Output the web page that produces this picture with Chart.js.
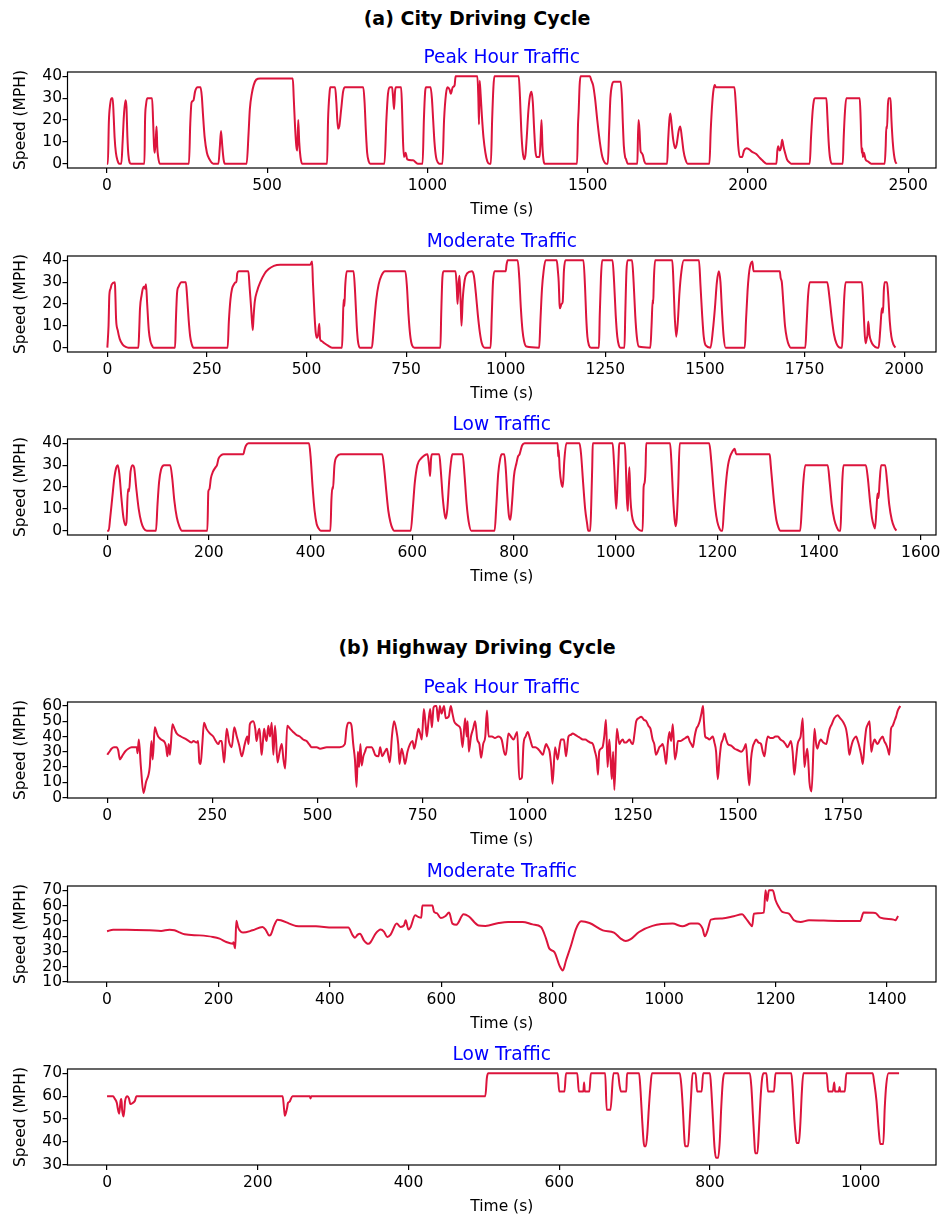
<!DOCTYPE html>
<html>
<head>
<meta charset="utf-8">
<script src="https://cdn.jsdelivr.net/npm/chart.js@4.4.1/dist/chart.umd.min.js"></script>
<style>
  body { margin: 0; background: #fff; width: 946px; height: 1218px; position: relative; overflow: hidden; font-family: "DejaVu Sans", sans-serif; }
  canvas { position: absolute; left: 0; }
  .sup { position: absolute; left: 0; width: 954px; text-align: center; font-weight: bold; font-size: 19px; line-height: 22px; color: #000; }
</style>
</head>
<body>
<div class="sup" style="top:7px">(a) City Driving Cycle</div>
<div class="sup" style="top:636px">(b) Highway Driving Cycle</div>
<canvas id="cityPeak" width="946" height="188" style="top:36px"></canvas>
<canvas id="cityModerate" width="946" height="188" style="top:220px"></canvas>
<canvas id="cityLow" width="946" height="188" style="top:403px"></canvas>
<canvas id="hwyPeak" width="946" height="188" style="top:666px"></canvas>
<canvas id="hwyModerate" width="946" height="188" style="top:850px"></canvas>
<canvas id="hwyLow" width="946" height="188" style="top:1033px"></canvas>
<script>
// (a) city - peak hour traffic
const cityPeakTime = [
  0, 3, 6, 10, 14, 18, 21, 24, 28, 33, 38,
  45, 49, 53, 58, 61, 64, 67, 71, 75,
  117, 119, 122, 126, 141, 144, 147, 149, 152, 155, 157, 160, 165,
  256, 260, 264, 270, 275, 283, 292, 296, 300, 305, 312, 320, 332,
  348, 352, 356, 360, 364, 368,
  436, 442, 446, 452, 458, 466, 478, 580, 583, 587, 591, 594, 597, 600, 604, 609,
  687, 690, 695, 697, 712, 716, 721, 725, 731, 737, 743, 800, 804, 808, 812, 817, 822,
  866, 872, 877, 883, 890, 893, 896, 899, 902, 918, 921, 924, 927, 932, 937, 955, 970,
  985, 989, 993, 996, 1010, 1014, 1018, 1022, 1027, 1033, 1037,
  1047, 1052, 1058, 1063, 1069, 1073, 1079, 1085, 1088, 1156, 1159, 1161, 1163, 1166, 1170, 1175, 1181, 1187, 1193,
  1198, 1202, 1206, 1209, 1285, 1289, 1293, 1297, 1302, 1306, 1310, 1315, 1320, 1325, 1329, 1333, 1337, 1341, 1350, 1353, 1356, 1359, 1362, 1366,
  1467, 1470, 1472, 1475, 1478, 1507, 1512, 1517, 1523, 1530, 1538, 1546, 1553, 1558,
  1563, 1567, 1571, 1576, 1582, 1603, 1607, 1610, 1613, 1617, 1620, 1625,
  1655, 1657, 1659, 1662, 1665, 1668, 1672, 1677, 1682,
  1748, 1751, 1755, 1758, 1762, 1767, 1773, 1778, 1784, 1789, 1794, 1799, 1805, 1812,
  1880, 1884, 1889, 1893, 1897, 1900, 1958, 1962, 1966, 1970, 1975, 1982, 1988, 1996, 2004, 2012, 2025, 2035, 2045, 2058,
  2089, 2092, 2095, 2099, 2103, 2107, 2111, 2116, 2122, 2130, 2135,
  2193, 2197, 2202, 2206, 2209, 2245, 2248, 2252, 2256, 2262,
  2296, 2299, 2303, 2307, 2349, 2352, 2355, 2357, 2359, 2362, 2367, 2375, 2385,
  2427, 2430, 2432, 2434, 2437, 2439, 2445, 2448, 2452, 2456, 2460, 2464
];
const cityPeakSpeed = [
  0, 0, 19, 27, 30, 30, 22, 12, 5, 1.5, 0,
  0, 10, 22, 29, 26, 12, 4, 0.5, 0,
  0, 20, 27, 30, 30, 20, 8, 5, 10, 17, 8, 3, 0,
  0, 18, 28, 29, 33, 35, 35, 31, 22, 12, 5, 2, 0,
  0, 7, 15, 8, 2, 0,
  0, 14, 25, 32, 36, 38.5, 39, 39, 30, 17, 8, 6, 20, 10, 3, 0,
  0, 20, 33, 35, 35, 28, 16, 17, 25, 33, 35, 35, 28, 15, 5, 1, 0,
  0, 20, 32, 35, 35, 30, 25, 33, 35, 35, 25, 10, 3, 5, 2, 1.5, 0,
  0, 20, 33, 35, 35, 30, 20, 10, 3, 0.5, 0,
  0, 20, 32, 35, 34, 32, 35, 36, 40, 40, 30, 18, 38, 32, 22, 12, 5, 1, 0,
  0, 20, 35, 40, 40, 30, 15, 6, 2, 4, 12, 24, 31, 33, 28, 16, 6, 3, 3, 10, 20, 8, 2, 0,
  0, 18, 24, 36, 40, 40, 38, 36, 30, 20, 10, 3, 0.5, 0,
  0, 15, 30, 36, 37.5, 37.5, 30, 18, 8, 3, 2, 0,
  0, 12, 20, 15, 6, 5, 4, 1, 0,
  0, 10, 20, 23, 18, 11, 7, 9, 15, 17, 12, 6, 2, 0,
  0, 15, 28, 34, 36, 35, 35, 28, 18, 8, 3, 3, 6, 7, 6.5, 5.5, 4.5, 3, 1.5, 0,
  0, 6, 8, 6, 7, 11, 8, 5, 2, 0.5, 0,
  0, 12, 24, 29, 30, 30, 22, 10, 3, 0,
  0, 12, 24, 30, 30, 20, 5, 7, 3, 5, 2, 1, 0,
  0, 8, 17, 16, 27, 30, 30, 20, 10, 4, 1, 0
];

// (a) city - moderate traffic
const cityModerateTime = [
  0, 3, 5, 8, 11, 19, 20, 22, 26, 31, 38, 46, 53,
  78, 80, 82, 86, 89, 93, 95, 97, 100, 104, 108, 112, 116,
  170, 172, 175, 179, 186, 197, 200, 204, 208, 212, 216,
  302, 305, 309, 313, 318, 322, 324, 326, 330, 354, 357, 361, 365, 367, 370, 376, 384, 395, 405, 418, 434, 509, 514, 516, 520, 523, 526, 529, 532, 534, 538, 545, 553, 564,
  589, 591, 593, 595, 597, 601, 618, 622, 626, 629, 634,
  664, 667, 670, 675, 681, 688, 697, 748, 752, 756, 760, 765, 771,
  836, 838, 841, 844, 874, 877, 879, 882, 884, 887, 889, 892, 897, 903, 915, 920, 925, 930, 935, 940, 947,
  962, 965, 968, 972, 1000, 1002, 1005, 1030, 1034, 1038, 1042, 1046, 1052, 1084,
  1087, 1091, 1095, 1100, 1128, 1131, 1133, 1135, 1136, 1140, 1143, 1146, 1150, 1195, 1199, 1202, 1205, 1209, 1214,
  1234, 1236, 1239, 1242, 1268, 1272, 1276, 1280, 1284, 1288, 1298,
  1300, 1303, 1306, 1317, 1321, 1325, 1329, 1334, 1363,
  1366, 1369, 1370, 1372, 1375, 1418, 1421, 1424, 1428, 1432, 1436, 1441, 1447, 1485, 1489, 1493, 1497, 1502, 1514,
  1520, 1525, 1530, 1535, 1539, 1543, 1547, 1552,
  1600, 1603, 1607, 1610, 1613, 1619, 1622, 1688, 1690, 1693, 1697, 1701, 1706, 1711, 1715,
  1752, 1755, 1759, 1763, 1807, 1812, 1818, 1824, 1830, 1840,
  1844, 1847, 1850, 1853, 1894, 1897, 1900, 1903, 1906, 1908, 1910, 1913, 1917, 1923, 1932,
  1936, 1940, 1943, 1945, 1947, 1949, 1951, 1957, 1960, 1964, 1968, 1973, 1978
];
const cityModerateSpeed = [
  0, 10, 24, 27, 29, 30, 25, 13, 8, 4, 1.5, 0.3, 0,
  0, 8, 18, 24, 27, 28, 27, 29, 20, 8, 3, 1, 0,
  0, 12, 25, 28, 30, 30, 24, 13, 5, 1.5, 0,
  0, 12, 22, 27, 29, 30, 30, 34, 35, 35, 28, 18, 8, 14, 21, 26, 30, 34, 36, 37.5, 38, 38, 39.5, 30, 15, 7, 4.5, 6, 11, 4, 3, 2, 1, 0,
  0, 10, 22, 19, 28, 35, 35, 25, 10, 3, 0,
  0, 5, 12, 22, 29, 33, 35, 35, 28, 15, 6, 1, 0,
  0, 15, 32, 35, 35, 28, 20, 30, 33, 20, 10, 22, 31, 34, 35, 33, 25, 15, 7, 2, 0,
  0, 15, 30, 35, 35, 38, 40, 40, 32, 18, 8, 3, 0.5, 0,
  12, 27, 35, 40, 40, 35, 30, 20, 18, 20, 21, 35, 40, 40, 28, 14, 5, 1, 0,
  0, 15, 32, 40, 40, 30, 15, 5, 1, 0, 0,
  15, 35, 40, 40, 30, 15, 5, 0.5, 0,
  10, 22, 20, 32, 40, 40, 30, 15, 5, 12, 25, 35, 40, 40, 28, 15, 5, 1, 0,
  8, 18, 30, 35, 30, 16, 5, 0,
  0, 12, 26, 33, 37, 39.5, 35, 35, 32, 30, 20, 10, 4, 1, 0,
  0, 10, 24, 30, 30, 24, 14, 6, 2, 0,
  0, 12, 24, 30, 30, 22, 10, 2, 4, 6, 12, 6, 3, 1, 0,
  0, 8, 16, 18, 16, 26, 30, 30, 24, 12, 5, 1.5, 0
];

// (a) city - low traffic
const cityLowTime = [
  0, 3, 6, 10, 14, 18, 21, 24, 28, 32, 36, 38, 41, 43, 46, 50, 53, 57, 62, 67, 72, 78,
  96, 99, 102, 106, 112, 124, 128, 132, 137, 142, 147,
  197, 199, 201, 204, 208, 213, 216, 219, 224, 229, 268, 270, 273, 278, 397, 400, 404, 408, 412, 416, 420,
  439, 441, 443, 444, 447, 452, 459, 541, 545, 549, 553, 557, 561, 564,
  597, 601, 605, 610, 617, 624, 630, 633, 635, 637, 639, 653, 656, 660, 664, 666, 669, 673, 677, 679, 699, 703, 707, 711, 716,
  762, 765, 769, 773, 776, 781, 784, 787, 790, 793, 796, 800, 805, 808, 811, 816, 821, 886, 887, 888, 890, 893, 896, 899, 903, 929, 932, 936, 940, 944, 946,
  950, 952, 954, 955, 994, 997, 1001, 1003, 1006, 1007, 1018, 1020, 1022, 1024, 1025, 1027, 1029, 1032, 1037, 1043, 1050,
  1053, 1055, 1057, 1059, 1060, 1107, 1110, 1113, 1116, 1118, 1120, 1123, 1126, 1184, 1188, 1192, 1196, 1200, 1204, 1207,
  1210, 1213, 1217, 1221, 1225, 1229, 1234, 1237, 1303, 1305, 1308, 1312, 1316, 1320, 1324,
  1363, 1366, 1369, 1373, 1417, 1421, 1425, 1430, 1435, 1439,
  1442, 1444, 1446, 1448, 1492, 1496, 1500, 1504, 1508, 1510, 1513, 1515, 1517, 1519, 1522, 1530, 1534, 1538, 1543, 1548, 1552
];
const cityLowSpeed = [
  0, 0, 6, 15, 24, 29, 30, 26, 15, 6, 2.5, 4, 19, 18, 27, 30, 29, 20, 10, 4, 1, 0,
  0, 12, 22, 28, 30, 30, 24, 14, 6, 2, 0,
  0, 18, 19, 24, 27, 29, 30, 33, 34.5, 35, 35, 37, 39, 40, 40, 34, 20, 9, 3, 1, 0,
  0, 14, 20, 19, 30, 34, 35, 35, 28, 18, 9, 4, 1, 0,
  0, 10, 22, 30, 33, 34.5, 35, 30, 25, 33, 35, 35, 28, 15, 7, 5.5, 10, 24, 33, 35, 35, 25, 12, 4, 0,
  0, 10, 26, 33, 35, 35, 28, 16, 7, 5, 12, 25, 31, 34, 35, 39, 40, 40, 34, 37, 28, 22, 20, 32, 40, 40, 35, 22, 10, 3, 0,
  0, 12, 30, 40, 40, 30, 10, 18, 35, 40, 40, 30, 15, 9, 20, 29, 15, 7, 3, 1, 0,
  0, 20, 22, 30, 40, 40, 30, 15, 5, 2, 5, 20, 40, 40, 32, 20, 10, 4, 1, 0,
  0, 10, 22, 30, 34, 36, 37.5, 35, 35, 30, 22, 12, 5, 1.5, 0,
  0, 10, 22, 30, 30, 22, 12, 5, 1.5, 0,
  0, 12, 24, 30, 30, 24, 14, 6, 2, 1, 10, 17, 15, 22, 30, 30, 22, 12, 5, 1.5, 0
];

// (b) highway - peak hour traffic
const hwyPeakTime = [
  0, 5, 10, 16, 22, 26, 30, 35, 42, 50, 58, 70, 72, 75, 80, 86, 92, 101, 105, 108, 113, 118, 121, 128, 137, 140, 143, 146, 149, 155,
  160, 165, 175, 189, 200, 205, 212, 216, 219, 222, 226, 230, 236, 244, 252, 258, 264, 268, 272, 275, 278, 284, 290, 296, 302, 308, 314, 320, 327, 333,
  336, 339, 347, 352, 355, 359, 362, 365, 367, 370, 373, 376, 379, 383, 387, 391, 395, 399, 405, 410, 415, 419, 423, 428, 435, 442, 450, 458, 466, 474,
  480, 486, 498, 506, 522, 553, 565, 569, 573, 577, 581, 585, 589, 593, 596, 599, 602, 605, 609, 613, 617, 629, 633, 637, 645, 649, 654, 660, 665, 668,
  672, 677, 682, 687, 692, 695, 700, 704, 708, 714, 720, 726, 730, 735, 740, 744, 748, 753, 757, 760, 764, 768, 772, 776, 780, 783, 787, 791, 795, 801,
  805, 812, 817, 821, 825, 830, 835, 840, 845, 851, 855, 857, 860, 865, 870, 875, 880, 885, 889, 894, 899, 903, 907, 915, 922, 930, 938, 946, 948, 954,
  960, 966, 975, 980, 986, 990, 995, 1000, 1006, 1012, 1018, 1024, 1030, 1036, 1040, 1044, 1048, 1052, 1056, 1059, 1065, 1071, 1075, 1079, 1086, 1091, 1097, 1102, 1107, 1113,
  1119, 1125, 1131, 1137, 1143, 1149, 1155, 1160, 1164, 1167, 1170, 1174, 1178, 1182, 1186, 1190, 1194, 1197, 1200, 1203, 1206, 1212, 1218, 1222, 1226, 1230, 1234, 1238, 1242, 1246,
  1250, 1254, 1258, 1264, 1270, 1276, 1282, 1287, 1292, 1297, 1301, 1305, 1309, 1313, 1317, 1321, 1325, 1329, 1333, 1337, 1341, 1345, 1350, 1354, 1357, 1363, 1369, 1375, 1381, 1385,
  1389, 1393, 1397, 1401, 1405, 1409, 1413, 1417, 1419, 1422, 1427, 1432, 1436, 1440, 1444, 1448, 1452, 1456, 1460, 1464, 1468, 1472, 1476, 1484, 1492, 1500, 1508, 1514, 1519, 1523,
  1527, 1531, 1535, 1539, 1543, 1549, 1555, 1559, 1563, 1567, 1571, 1577, 1583, 1589, 1595, 1601, 1607, 1613, 1618, 1622, 1626, 1630, 1634, 1638, 1642, 1646, 1649, 1654, 1658, 1662,
  1665, 1668, 1670, 1675, 1682, 1686, 1689, 1693, 1697, 1703, 1710, 1714, 1718, 1723, 1729, 1737, 1743, 1749, 1753, 1757, 1761, 1765, 1769, 1773, 1777, 1781, 1785, 1789, 1793, 1797,
  1801, 1805, 1809, 1813, 1817, 1821, 1825, 1829, 1832, 1838, 1844, 1848, 1852, 1856, 1860, 1864, 1868, 1872, 1876, 1880, 1886
];
const hwyPeakSpeed = [
  28, 30, 32, 33, 33, 31, 25, 27, 30, 32, 33, 33, 29, 38, 20, 3, 10, 20, 37, 25, 46, 42, 40, 38, 36, 33, 27, 35, 28, 48,
  45, 42, 40, 38, 36, 37, 36, 37, 23, 22, 35, 49, 45, 42, 40, 37, 35, 37, 37, 30, 23, 45, 36, 33, 46, 40, 34, 27, 35, 40,
  35, 48, 50, 45, 37, 43, 45, 35, 28, 36, 45, 40, 37, 47, 40, 49, 28, 47, 23, 30, 35, 25, 19, 47, 45, 43, 41, 40, 38, 37,
  35, 33, 33, 32, 33, 33, 35, 45, 49, 49, 47, 35, 25, 7, 30, 20, 35, 21, 27, 30, 33, 33, 31, 28, 27, 33, 27, 30, 32, 28,
  23, 40, 50, 45, 35, 22, 32, 28, 22, 30, 35, 37, 32, 38, 45, 42, 38, 58, 48, 40, 50, 58, 46, 59, 60, 60, 50, 60, 55, 60,
  52, 53, 60, 55, 50, 48, 47, 45, 33, 52, 40, 50, 30, 40, 45, 50, 38, 35, 26, 35, 40, 57, 40, 40, 39, 40, 38, 28, 28, 42,
  40, 38, 43, 12, 13, 35, 40, 43, 38, 33, 33, 32, 30, 28, 32, 35, 33, 30, 20, 9, 33, 25, 32, 38, 38, 27, 40, 41, 42, 41,
  40, 39, 38, 38, 37, 36, 35, 30, 25, 15, 30, 32, 33, 40, 51, 20, 38, 25, 12, 30, 5, 45, 35, 37, 38, 36, 36, 37, 38, 36,
  35, 42, 50, 52, 53, 51, 50, 47, 45, 38, 35, 28, 30, 33, 34, 35, 30, 22, 35, 43, 37, 48, 25, 30, 37, 37, 38, 39, 40, 37,
  35, 33, 40, 45, 47, 50, 55, 60, 50, 40, 39, 38, 39, 40, 36, 30, 12, 25, 35, 38, 42, 38, 35, 34, 32, 31, 30, 32, 35, 20,
  8, 25, 33, 36, 38, 36, 35, 30, 27, 35, 40, 39, 39, 40, 40, 38, 37, 35, 33, 35, 37, 30, 15, 25, 35, 38, 40, 52, 20, 28,
  32, 20, 10, 4, 45, 35, 32, 36, 38, 36, 35, 40, 45, 48, 52, 54, 52, 50, 48, 45, 38, 28, 33, 37, 39, 40, 37, 33, 28, 22,
  35, 45, 48, 50, 30, 35, 38, 36, 35, 38, 40, 37, 35, 32, 28, 45, 47, 50, 53, 57, 60
];

// (b) highway - moderate traffic
const hwyModerateTime = [
  0, 11, 35, 76, 97, 112, 121, 130, 139, 166, 190, 202, 214, 226, 227, 229, 230, 232, 235, 238, 244, 261, 279, 285, 291, 294, 300, 306, 312, 327,
  339, 375, 405, 433, 441, 445, 450, 454, 461, 469, 473, 482, 491, 497, 503, 509, 520, 527, 533, 536, 541, 545, 553, 559, 564, 566, 584, 587, 592, 599,
  607, 614, 620, 627, 640, 649, 667, 679, 703, 720, 746, 764, 779, 788, 794, 803, 812, 818, 824, 833, 842, 851, 866, 890, 910, 922, 931, 940, 955, 979,
  1015, 1033, 1048, 1060, 1069, 1073, 1078, 1084, 1104, 1125, 1140, 1146, 1155, 1158, 1161, 1179, 1182, 1185, 1188, 1195, 1200, 1206, 1212, 1224, 1233, 1245, 1260, 1313, 1352, 1358,
  1379, 1388, 1412, 1415, 1420
];
const hwyModerateSpeed = [
  43.2, 44.2, 44.2, 43.8, 43.4, 44.2, 43.8, 42.5, 41.2, 40.5, 39.5, 38.4, 36.2, 35.1, 36, 33, 32, 50, 46, 43.8, 42.3, 43.8, 46, 44, 40.5, 41, 47, 50.8, 50.4, 48.2,
  46.7, 46.4, 45.6, 45.6, 40.5, 39, 41, 41.6, 37.3, 35, 36, 41.6, 44.3, 43, 39.5, 41, 48.2, 46, 47, 50.4, 44.3, 46, 53.6, 52.5, 52, 60, 60, 55.8, 55, 51.9,
  53, 55.4, 48.2, 47.5, 54.3, 53, 47, 46.7, 48.6, 49.3, 49.3, 47.7, 46, 38.4, 31.8, 29.6, 20.9, 17.6, 24.2, 34, 44.9, 49.7, 48.6, 43.8, 42.3, 38.4, 36.8, 38, 42.7, 46.7,
  48.2, 46.4, 48.2, 48.2, 44.9, 39.9, 43.8, 50.8, 51.5, 53, 54.3, 52, 47.5, 46.4, 54.7, 55.4, 70, 63, 70, 70, 63.5, 59, 55.8, 54.7, 50.4, 49.3, 50.4, 49.9, 49.9, 55.4,
  55.2, 52.1, 50.8, 50.4, 53.2
];

// (b) highway - low traffic
const hwyLowTime = [
  0, 8, 10, 13, 14, 16, 18, 19, 20, 22, 24, 27, 29, 31, 34, 37, 39, 233, 235, 236, 239, 240, 242, 246, 269, 270, 271, 502, 504, 506,
  598, 600, 607, 609, 624, 626, 632, 633, 634, 640, 642, 661, 663, 668, 672, 678, 680, 682, 689, 690, 706, 708, 710, 712, 713, 715, 717, 719, 721, 723,
  760, 762, 764, 766, 767, 771, 773, 775, 777, 781, 783, 789, 791, 800, 802, 804, 806, 808, 811, 813, 815, 817, 819, 853, 855, 857, 859, 860, 863, 865,
  867, 869, 871, 875, 877, 885, 887, 908, 910, 912, 914, 915, 918, 920, 922, 924, 955, 957, 963, 965, 966, 971, 972, 973, 979, 981, 1016, 1018, 1021, 1024,
  1026, 1030, 1032, 1034, 1037, 1051
];
const hwyLowSpeed = [
  60, 60, 59, 57, 55, 52.3, 58, 58.7, 54, 51.1, 58, 60, 59, 56.5, 57, 58, 60, 60, 54, 51.4, 55, 57, 57.5, 60, 60, 59, 60, 60, 68, 70,
  70, 62, 62, 70, 70, 62, 62, 66, 62, 62, 70, 70, 54, 54, 70, 70, 65, 62, 62, 70, 70, 62, 50, 40, 38, 38, 44, 55, 64, 70,
  70, 65, 55, 42, 38, 38, 48, 60, 70, 70, 62, 62, 70, 70, 62, 50, 38, 33, 33, 40, 55, 66, 70, 70, 64, 52, 40, 35, 35, 45,
  58, 67, 70, 70, 62, 62, 70, 70, 62, 50, 42, 39.5, 39.5, 48, 62, 70, 70, 62, 62, 66, 62, 62, 64, 62, 62, 70, 70, 66, 58, 45,
  39, 39, 55, 65, 70, 70
];

// tick values
const cityPeakTicks = [0, 500, 1000, 1500, 2000, 2500];
const cityModerateTicks = [0, 250, 500, 750, 1000, 1250, 1500, 1750, 2000];
const cityLowTicks = [0, 200, 400, 600, 800, 1000, 1200, 1400, 1600];
const hwyPeakTicks = [0, 250, 500, 750, 1000, 1250, 1500, 1750];
const hwyModerateTicks = [0, 200, 400, 600, 800, 1000, 1200, 1400];
const hwyLowTicks = [0, 200, 400, 600, 800, 1000];
const citySpeedTicks = [0, 10, 20, 30, 40];
const hwyPeakSpeedTicks = [0, 10, 20, 30, 40, 50, 60];
const hwyModerateSpeedTicks = [10, 20, 30, 40, 50, 60, 70];
const hwyLowSpeedTicks = [30, 40, 50, 60, 70];

Chart.defaults.font.family = "'DejaVu Sans', sans-serif";
Chart.defaults.color = '#000';

// matplotlib style box round the plot area
const frame = {
  id: 'frame',
  afterDraw(chart) {
    const { ctx, chartArea: a } = chart;
    ctx.save();
    ctx.strokeStyle = '#000';
    ctx.lineWidth = 1.2;
    ctx.strokeRect(a.left, a.top, a.right - a.left, a.bottom - a.top);
    ctx.restore();
  }
};

function drawCycle(id, title, times, speeds, xRange, xTicks, yRange, yTicks) {
  new Chart(document.getElementById(id), {
    type: 'line',
    data: {
      datasets: [{
        data: times.map((t, i) => ({ x: t, y: speeds[i] })),
        borderColor: '#DC143C',
        borderWidth: 2,
        pointRadius: 0,
        cubicInterpolationMode: 'monotone',
        fill: false
      }]
    },
    options: {
      responsive: false,
      animation: false,
      devicePixelRatio: 1,
      layout: { padding: { left: 0, right: 10, top: 0, bottom: 0 } },
      plugins: {
        legend: { display: false },
        tooltip: { enabled: false },
        title: {
          display: true,
          fullSize: false,
          text: title,
          color: '#0000FF',
          font: { size: 18.6, weight: 'normal', lineHeight: 1.2 },
          padding: { top: 10.84, bottom: 2.84 }
        }
      },
      scales: {
        x: {
          type: 'linear',
          min: xRange[0],
          max: xRange[1],
          afterBuildTicks: s => { s.ticks = xTicks.map(v => ({ value: v })); },
          afterFit: s => { s.height = 56; },
          ticks: { autoSkip: false, maxRotation: 0, padding: 4, font: { size: 15.5 }, callback: v => String(v) },
          grid: { drawOnChartArea: false, tickLength: 5, color: '#000', lineWidth: 1.2 },
          border: { display: false },
          title: { display: true, text: 'Time (s)', font: { size: 15.5 }, padding: { top: 0, bottom: 5 } }
        },
        y: {
          type: 'linear',
          min: yRange[0],
          max: yRange[1],
          afterBuildTicks: s => { s.ticks = yTicks.map(v => ({ value: v })); },
          afterFit: s => { s.width = 67.5; },
          ticks: { autoSkip: false, padding: 0.5, font: { size: 15.5 }, callback: v => String(v) },
          grid: { drawOnChartArea: false, tickLength: 5, color: '#000', lineWidth: 1.2 },
          border: { display: false },
          title: { display: true, text: 'Speed (MPH)', font: { size: 15.5 }, padding: { top: 11.7, bottom: 0 } }
        }
      }
    },
    plugins: [frame]
  });
}

drawCycle('cityPeak', 'Peak Hour Traffic', cityPeakTime, cityPeakSpeed, [-123, 2587], cityPeakTicks, [-2, 42], citySpeedTicks);
drawCycle('cityModerate', 'Moderate Traffic', cityModerateTime, cityModerateSpeed, [-100, 2080], cityModerateTicks, [-2, 42], citySpeedTicks);
drawCycle('cityLow', 'Low Traffic', cityLowTime, cityLowSpeed, [-78, 1630], cityLowTicks, [-2, 42], citySpeedTicks);
drawCycle('hwyPeak', 'Peak Hour Traffic', hwyPeakTime, hwyPeakSpeed, [-94.6, 1971], hwyPeakTicks, [-0.3, 62.6], hwyPeakSpeedTicks);
drawCycle('hwyModerate', 'Moderate Traffic', hwyModerateTime, hwyModerateSpeed, [-71, 1488], hwyModerateTicks, [10, 72.8], hwyModerateSpeedTicks);
drawCycle('hwyLow', 'Low Traffic', hwyLowTime, hwyLowSpeed, [-52.5, 1100], hwyLowTicks, [29.8, 71.9], hwyLowSpeedTicks);
</script>
</body>
</html>
